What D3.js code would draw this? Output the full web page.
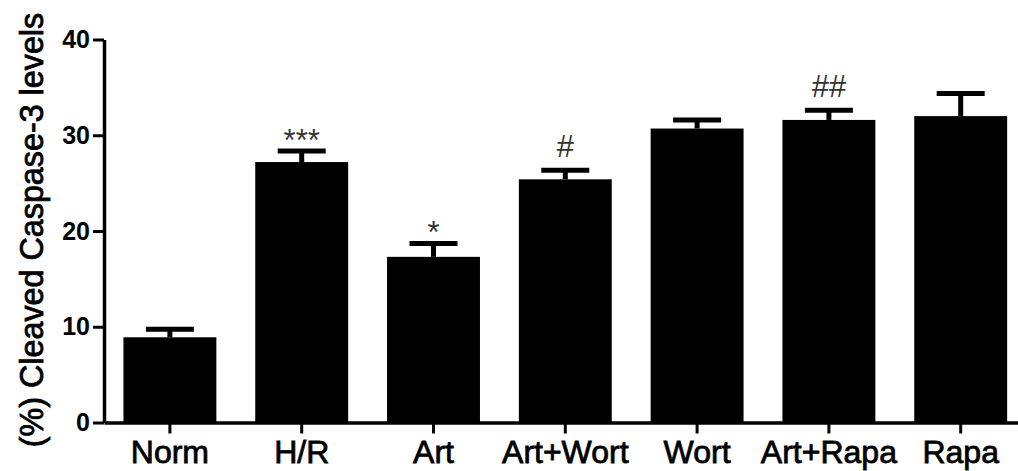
<!DOCTYPE html>
<html>
<head>
<meta charset="utf-8">
<script src="https://cdn.jsdelivr.net/npm/d3@7"></script>
<style>
  html, body { margin: 0; padding: 0; background: #fff; }
  svg { display: block; }
  text { font-family: "Liberation Sans", Arial, sans-serif; }
</style>
</head>
<body>
<svg id="chart" width="1018" height="471"></svg>
<script>
const categories = ["Norm", "H/R", "Art", "Art+Wort", "Wort", "Art+Rapa", "Rapa"];
const means = [8.9, 27.2, 17.3, 25.4, 30.7, 31.6, 32.0];
const errors = [0.85, 1.15, 1.4, 0.95, 0.9, 1.0, 2.35];
const marks = ["", "***", "*", "#", "", "##", ""];
const yTicks = [0, 10, 20, 30, 40];
const yTitle = "(%) Cleaved Caspase-3 levels";

const svg = d3.select("#chart");

const y = d3.scaleLinear().domain([0, 40]).range([422.5, 39.5]);
const x = d3.scaleBand().domain(categories).range([104, 1026.6])
  .paddingInner(0.295).paddingOuter(0.1475);

const data = categories.map((c, i) => ({ c, m: means[i], e: errors[i], mark: marks[i] }));

// bars
svg.append("g").selectAll("rect").data(data).join("rect")
  .attr("x", d => x(d.c))
  .attr("y", d => y(d.m))
  .attr("width", x.bandwidth())
  .attr("height", d => y(0) - y(d.m))
  .attr("fill", "#000");

// error bars
const capW = 48;
const eb = svg.append("g").attr("stroke", "#000").attr("stroke-width", 5);
eb.selectAll("line.stem").data(data).join("line").attr("class", "stem")
  .attr("x1", d => x(d.c) + x.bandwidth() / 2)
  .attr("x2", d => x(d.c) + x.bandwidth() / 2)
  .attr("y1", d => y(d.m))
  .attr("y2", d => y(d.m + d.e));
eb.selectAll("line.cap").data(data).join("line").attr("class", "cap")
  .attr("x1", d => x(d.c) + x.bandwidth() / 2 - capW / 2)
  .attr("x2", d => x(d.c) + x.bandwidth() / 2 + capW / 2)
  .attr("y1", d => y(d.m + d.e))
  .attr("y2", d => y(d.m + d.e));

// significance marks
const markFont = 31;
svg.append("g").selectAll("text").data(data.filter(d => d.mark)).join("text")
  .attr("x", d => x(d.c) + x.bandwidth() / 2)
  .attr("y", d => {
    const capTop = y(d.m + d.e) - 2.5;
    const gap = 11;
    const lift = d.mark.includes("*") ? 0.43 * markFont : 0;
    return capTop - gap + lift;
  })
  .attr("text-anchor", "middle")
  .attr("font-size", markFont)
  .attr("fill", "#333")
  .text(d => d.mark);

// y axis
const yAxis = svg.append("g").attr("transform", "translate(104,0)")
  .call(d3.axisLeft(y).tickValues(yTicks).tickSize(11).tickPadding(3).tickSizeOuter(0));
yAxis.select(".domain").attr("stroke", "#000").attr("stroke-width", 3.5);
yAxis.selectAll(".tick line").attr("stroke", "#000").attr("stroke-width", 3);
yAxis.selectAll(".tick text").attr("font-size", 25).attr("font-weight", "bold")
  .attr("fill", "#000").attr("font-family", "'Liberation Sans', Arial, sans-serif");

// x axis
const xAxis = svg.append("g").attr("transform", "translate(0,422.5)")
  .call(d3.axisBottom(x).tickSize(11).tickPadding(6.5).tickSizeOuter(0));
xAxis.select(".domain").attr("stroke", "#000").attr("stroke-width", 3.5);
xAxis.selectAll(".tick line").attr("stroke", "#000").attr("stroke-width", 3);
xAxis.selectAll(".tick text").attr("font-size", 32)
  .attr("fill", "#000").attr("stroke", "#000").attr("stroke-width", 0.8)
  .attr("font-family", "'Liberation Sans', Arial, sans-serif");

// y title
svg.append("text")
  .attr("transform", "translate(43,230) rotate(-90)")
  .attr("text-anchor", "middle")
  .attr("font-size", 32.3)
  .attr("fill", "#000").attr("stroke", "#000").attr("stroke-width", 0.8)
  .text(yTitle);
</script>
</body>
</html>
